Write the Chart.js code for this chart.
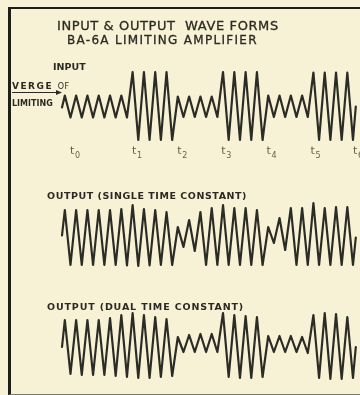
<!DOCTYPE html>
<html><head><meta charset="utf-8">
<script src="https://cdn.jsdelivr.net/npm/chart.js@4/dist/chart.umd.min.js"></script>
<style>
html,body{margin:0;padding:0;background:#f7f2d6;}
#wrap{position:relative;width:360px;height:395px;overflow:hidden;background:#f7f2d6;}
canvas{position:absolute;left:0;top:0;}
.t{position:absolute;white-space:nowrap;font-family:"DejaVu Sans";color:#2b2a22;line-height:1;}
.frame{position:absolute;left:8px;top:7px;width:370px;height:385px;border-left:3px solid #1f1f1a;border-top:2px solid #1f1f1a;border-bottom:1px solid #7a7866;}
</style></head><body>
<div id="wrap">
<canvas id="c" width="360" height="395"></canvas>
<div class="frame"></div>
<div class="t" style="left:57px;top:19px;font-size:13px;letter-spacing:0.6px;-webkit-text-stroke:0.3px #2b2a22">INPUT &amp; OUTPUT&nbsp; WAVE FORMS</div>
<div class="t" style="left:67px;top:34px;font-size:12px;letter-spacing:1.3px;-webkit-text-stroke:0.3px #2b2a22">BA-6A LIMITING AMPLIFIER</div>
<div class="t" style="left:53px;top:62px;font-size:9.5px;font-weight:bold">INPUT</div>
<div class="t" style="left:12px;top:82px;font-size:9px;font-weight:bold;letter-spacing:1.5px">VERGE <span style="font-weight:normal;letter-spacing:0.5px;font-size:8px">OF</span></div>
<div class="t" style="left:12px;top:100px;font-size:8px;font-weight:bold">LIMITING</div>
<div class="t" style="left:47px;top:191px;font-size:9.5px;font-weight:bold;letter-spacing:0.55px">OUTPUT (SINGLE TIME CONSTANT)</div>
<div class="t" style="left:47px;top:302px;font-size:9.5px;font-weight:bold;letter-spacing:0.85px">OUTPUT (DUAL TIME CONSTANT)</div>
</div>
<script>
// time axis: one unit = one cycle of the carrier; 26 cycles drawn
const inputPeaks   = [1.1,1.1,1.1,1.1,1.1,1.1, 3.45,3.45,3.45,3.45, 1.0,1.0,1.0,1.0, 3.45,3.45,3.45,3.45, 1.1,1.1,1.1,1.1, 3.4,3.4,3.4,3.4];
const inputTroughs = [-1.1,-1.1,-1.1,-1.1,-1.1,-1.1, -3.35,-3.35,-3.35,-3.35, -1.05,-1.05,-1.05,-1.05, -3.35,-3.35,-3.35,-3.35, -1.05,-1.05,-1.05,-1.05, -3.35,-3.35,-3.35,-3.35];
const inputEnds    = [-0.1, 0.0];

const singlePeaks   = [2.75,2.75,2.75,2.75,2.75,2.85, 3.25,2.85,2.75,2.55, 1.05,1.75,2.55,2.95, 3.25,2.95,2.95,2.75, 1.05,1.95,2.95,2.95, 3.45,2.95,3.05,3.05];
const singleTroughs = [-2.75,-2.75,-2.75,-2.75,-2.75,-2.8, -2.85,-2.8,-2.75,-2.75, -0.95,-1.35,-2.75,-2.75, -2.75,-2.75,-2.75,-2.75, -0.55,-1.25,-2.75,-2.75, -2.75,-2.75,-2.75,-2.75];
const singleEnds    = [0.2, 0.0];

const dualPeaks   = [2.7,2.7,2.7,2.7,2.9,3.2, 3.4,3.2,3.0,2.8, 1.0,1.2,1.3,1.3, 3.4,3.2,3.1,3.0, 1.1,1.1,1.1,1.0, 3.2,3.4,3.3,3.0];
const dualTroughs = [-2.7,-2.8,-2.8,-2.8,-2.9,-3.0, -3.1,-3.1,-3.0,-2.9, -0.5,-0.5,-0.5,-0.5, -3.0,-3.1,-3.1,-3.0, -0.5,-0.5,-0.5,-0.6, -3.1,-3.2,-3.2,-3.1];
const dualEnds    = [0.0, 0.0];

const timeMarkLabels    = ['0','1','2','3','4','5','6'];
const timeMarkPositions = [0.7, 6.2, 10.2, 14.1, 18.1, 22.0, 25.75];

function wave(peaks, troughs, ends){
  const pts=[{x:0,y:ends[0]}];
  for(let k=0;k<peaks.length;k++){
    pts.push({x:k+0.25,y:peaks[k]});
    pts.push({x:k+0.75,y:troughs[k]});
  }
  pts.push({x:peaks.length,y:ends[1]});
  return pts;
}

// layout (pixels)
const W=360,H=395, X0=62, PX_PER_CYCLE=11.3, PX_PER_UNIT=10;
function yRange(center){ return {min:-(H-center)/PX_PER_UNIT, max:center/PX_PER_UNIT}; }
const rIn=yRange(106.5), rS=yRange(237.5), rD=yRange(347);

const lineColor='#2c2c26';
const ds=(data,axis)=>({data,yAxisID:axis,borderColor:lineColor,borderWidth:2.2,pointRadius:0,tension:0,borderJoinStyle:'round',borderCapStyle:'round',fill:false});

const marks={
  id:'marks',
  afterDraw(chart){
    const ctx=chart.ctx, xs=chart.scales.x;
    ctx.save();
    ctx.fillStyle='#6b614b';
    ctx.textBaseline='alphabetic';
    timeMarkLabels.forEach((lab,i)=>{
      const px=xs.getPixelForValue(timeMarkPositions[i]);
      ctx.font='11px "DejaVu Sans"';
      ctx.fillText('t',px,154);
      ctx.font='8px "DejaVu Sans"';
      ctx.fillText(lab,px+5,158);
    });
    // arrow under "VERGE OF"
    ctx.strokeStyle='#2b2a22'; ctx.lineWidth=1.2;
    ctx.beginPath(); ctx.moveTo(12,92.5); ctx.lineTo(58,92.5); ctx.stroke();
    ctx.fillStyle='#2b2a22';
    ctx.beginPath(); ctx.moveTo(62,92.5); ctx.lineTo(56,90); ctx.lineTo(56,95); ctx.closePath(); ctx.fill();
    ctx.restore();
  }
};

new Chart(document.getElementById('c'),{
  type:'line',
  data:{datasets:[
    ds(wave(inputPeaks,inputTroughs,inputEnds),'yIn'),
    ds(wave(singlePeaks,singleTroughs,singleEnds),'ySingle'),
    ds(wave(dualPeaks,dualTroughs,dualEnds),'yDual')
  ]},
  options:{
    responsive:false, devicePixelRatio:1, animation:false,
    layout:{padding:0},
    plugins:{legend:{display:false},tooltip:{enabled:false},title:{display:false}},
    scales:{
      x:{type:'linear',display:false,min:-X0/PX_PER_CYCLE,max:(W-X0)/PX_PER_CYCLE},
      yIn:{type:'linear',display:false,min:rIn.min,max:rIn.max},
      ySingle:{type:'linear',display:false,min:rS.min,max:rS.max},
      yDual:{type:'linear',display:false,min:rD.min,max:rD.max}
    }
  },
  plugins:[marks]
});
</script>
</body></html>
